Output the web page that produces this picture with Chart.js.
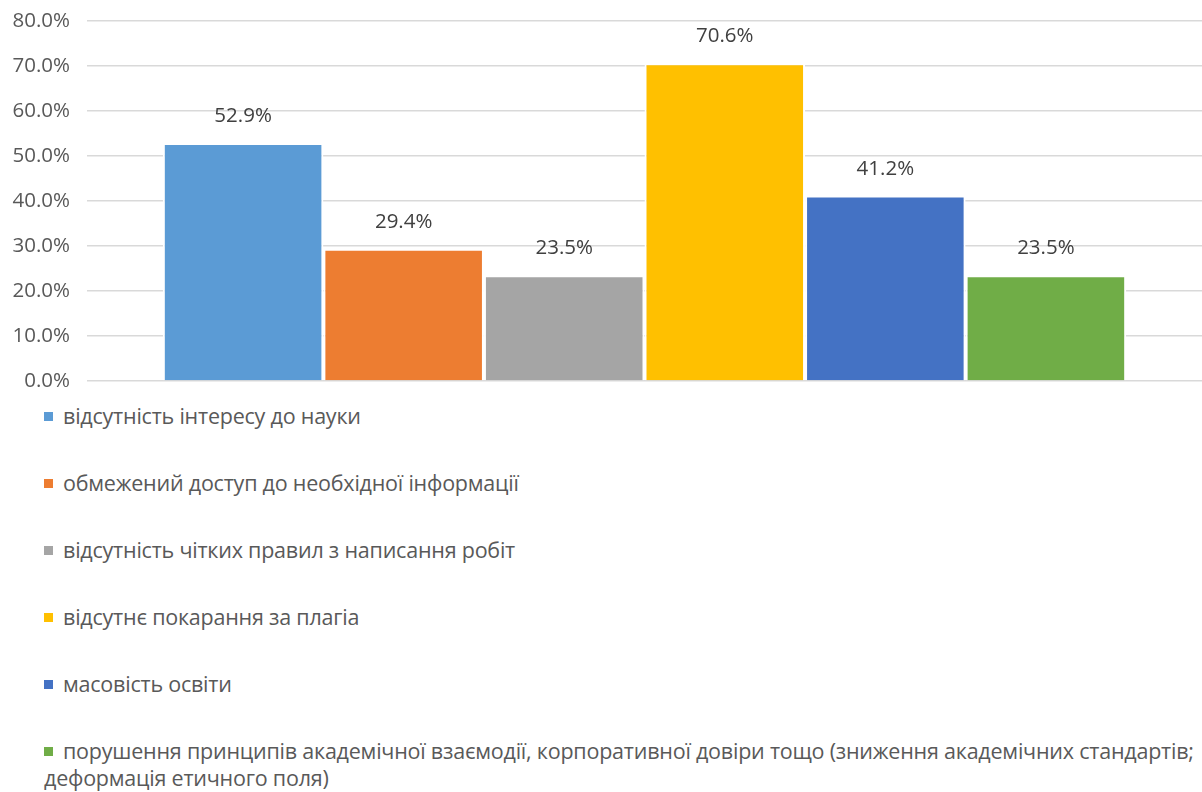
<!DOCTYPE html>
<html>
<head>
<meta charset="utf-8">
<script src="https://cdn.jsdelivr.net/npm/chart.js@4.4.0/dist/chart.umd.min.js"></script>
<style>
  html, body { margin: 0; padding: 0; background: #ffffff; }
  body { width: 1202px; height: 792px; overflow: hidden; position: relative; font-family: "Open Sans", sans-serif; }
  #wrap { position: absolute; left: 0; top: 0; width: 1202px; height: 395px; }
  #legend { position: absolute; left: 0; top: 402px; width: 1202px; }
  .item { padding-left: 44px; padding-right: 0px; height: 67px; box-sizing: border-box; font-size: 21.5px; line-height: 27px; letter-spacing: -0.22px; color: #595959; }
  .sq { display: inline-block; width: 9px; height: 9px; margin-right: 10px; vertical-align: 3px; }
</style>
</head>
<body>
<div id="wrap"><canvas id="c"></canvas></div>
<div id="legend"></div>
<script>
const categories = [""];
const seriesNames = [
  "відсутність інтересу до науки",
  "обмежений доступ до необхідної інформації",
  "відсутність чітких правил з написання робіт",
  "відсутнє покарання за плагіа",
  "масовість освіти",
  "порушення принципів академічної взаємодії, корпоративної довіри тощо (зниження академічних стандартів; деформація етичного поля)"
];
const seriesValues = [0.529, 0.294, 0.235, 0.706, 0.412, 0.235];
const seriesColors = ["#5B9BD5", "#ED7D31", "#A5A5A5", "#FFC000", "#4472C4", "#70AD47"];
const yTicks = [0, 0.1, 0.2, 0.3, 0.4, 0.5, 0.6, 0.7, 0.8];

const fmt = v => (v * 100).toFixed(1) + "%";

const labelPlugin = {
  id: "barLabels",
  afterDatasetsDraw(chart) {
    const ctx = chart.ctx;
    ctx.save();
    ctx.font = '20.5px "Open Sans"';
    ctx.fillStyle = "#404040";
    ctx.textAlign = "center";
    ctx.textBaseline = "alphabetic";
    chart.data.datasets.forEach((ds, i) => {
      const meta = chart.getDatasetMeta(i);
      meta.data.forEach((bar, j) => {
        ctx.fillText(fmt(ds.data[j]), bar.x, bar.y - 21);
      });
    });
    ctx.restore();
  }
};

const chart = new Chart(document.getElementById("c"), {
  type: "bar",
  data: {
    labels: categories,
    datasets: seriesNames.map((name, i) => ({
      label: name,
      data: [seriesValues[i]],
      backgroundColor: seriesColors[i],
      borderColor: "#ffffff",
      borderWidth: 2,
      categoryPercentage: 0.864,
      barPercentage: 1.0
    }))
  },
  options: {
    responsive: true,
    maintainAspectRatio: false,
    animation: false,
    layout: { padding: { top: 21, bottom: 14, left: 0, right: 0 } },
    plugins: { legend: { display: false }, tooltip: { enabled: false } },
    scales: {
      x: { display: false },
      y: {
        min: 0, max: 0.8,
        afterFit(axis) { axis.width = 87; axis.paddingTop = 0; axis.paddingBottom = 0; },
        afterBuildTicks(axis) { axis.ticks = yTicks.map(v => ({ value: v })); },
        border: { display: false },
        grid: { color: "#d9d9d9", lineWidth: 1.5, drawTicks: false },
        ticks: {
          padding: 17,
          color: "#595959",
          font: { family: "Open Sans", size: 20.5 },
          callback: v => fmt(v)
        }
      }
    }
  },
  plugins: [labelPlugin]
});

const legend = document.getElementById("legend");
chart.data.datasets.forEach(ds => {
  const d = document.createElement("div");
  d.className = "item";
  const s = document.createElement("span");
  s.className = "sq";
  s.style.background = ds.backgroundColor;
  d.appendChild(s);
  d.appendChild(document.createTextNode(ds.label));
  legend.appendChild(d);
});
</script>
</body>
</html>
